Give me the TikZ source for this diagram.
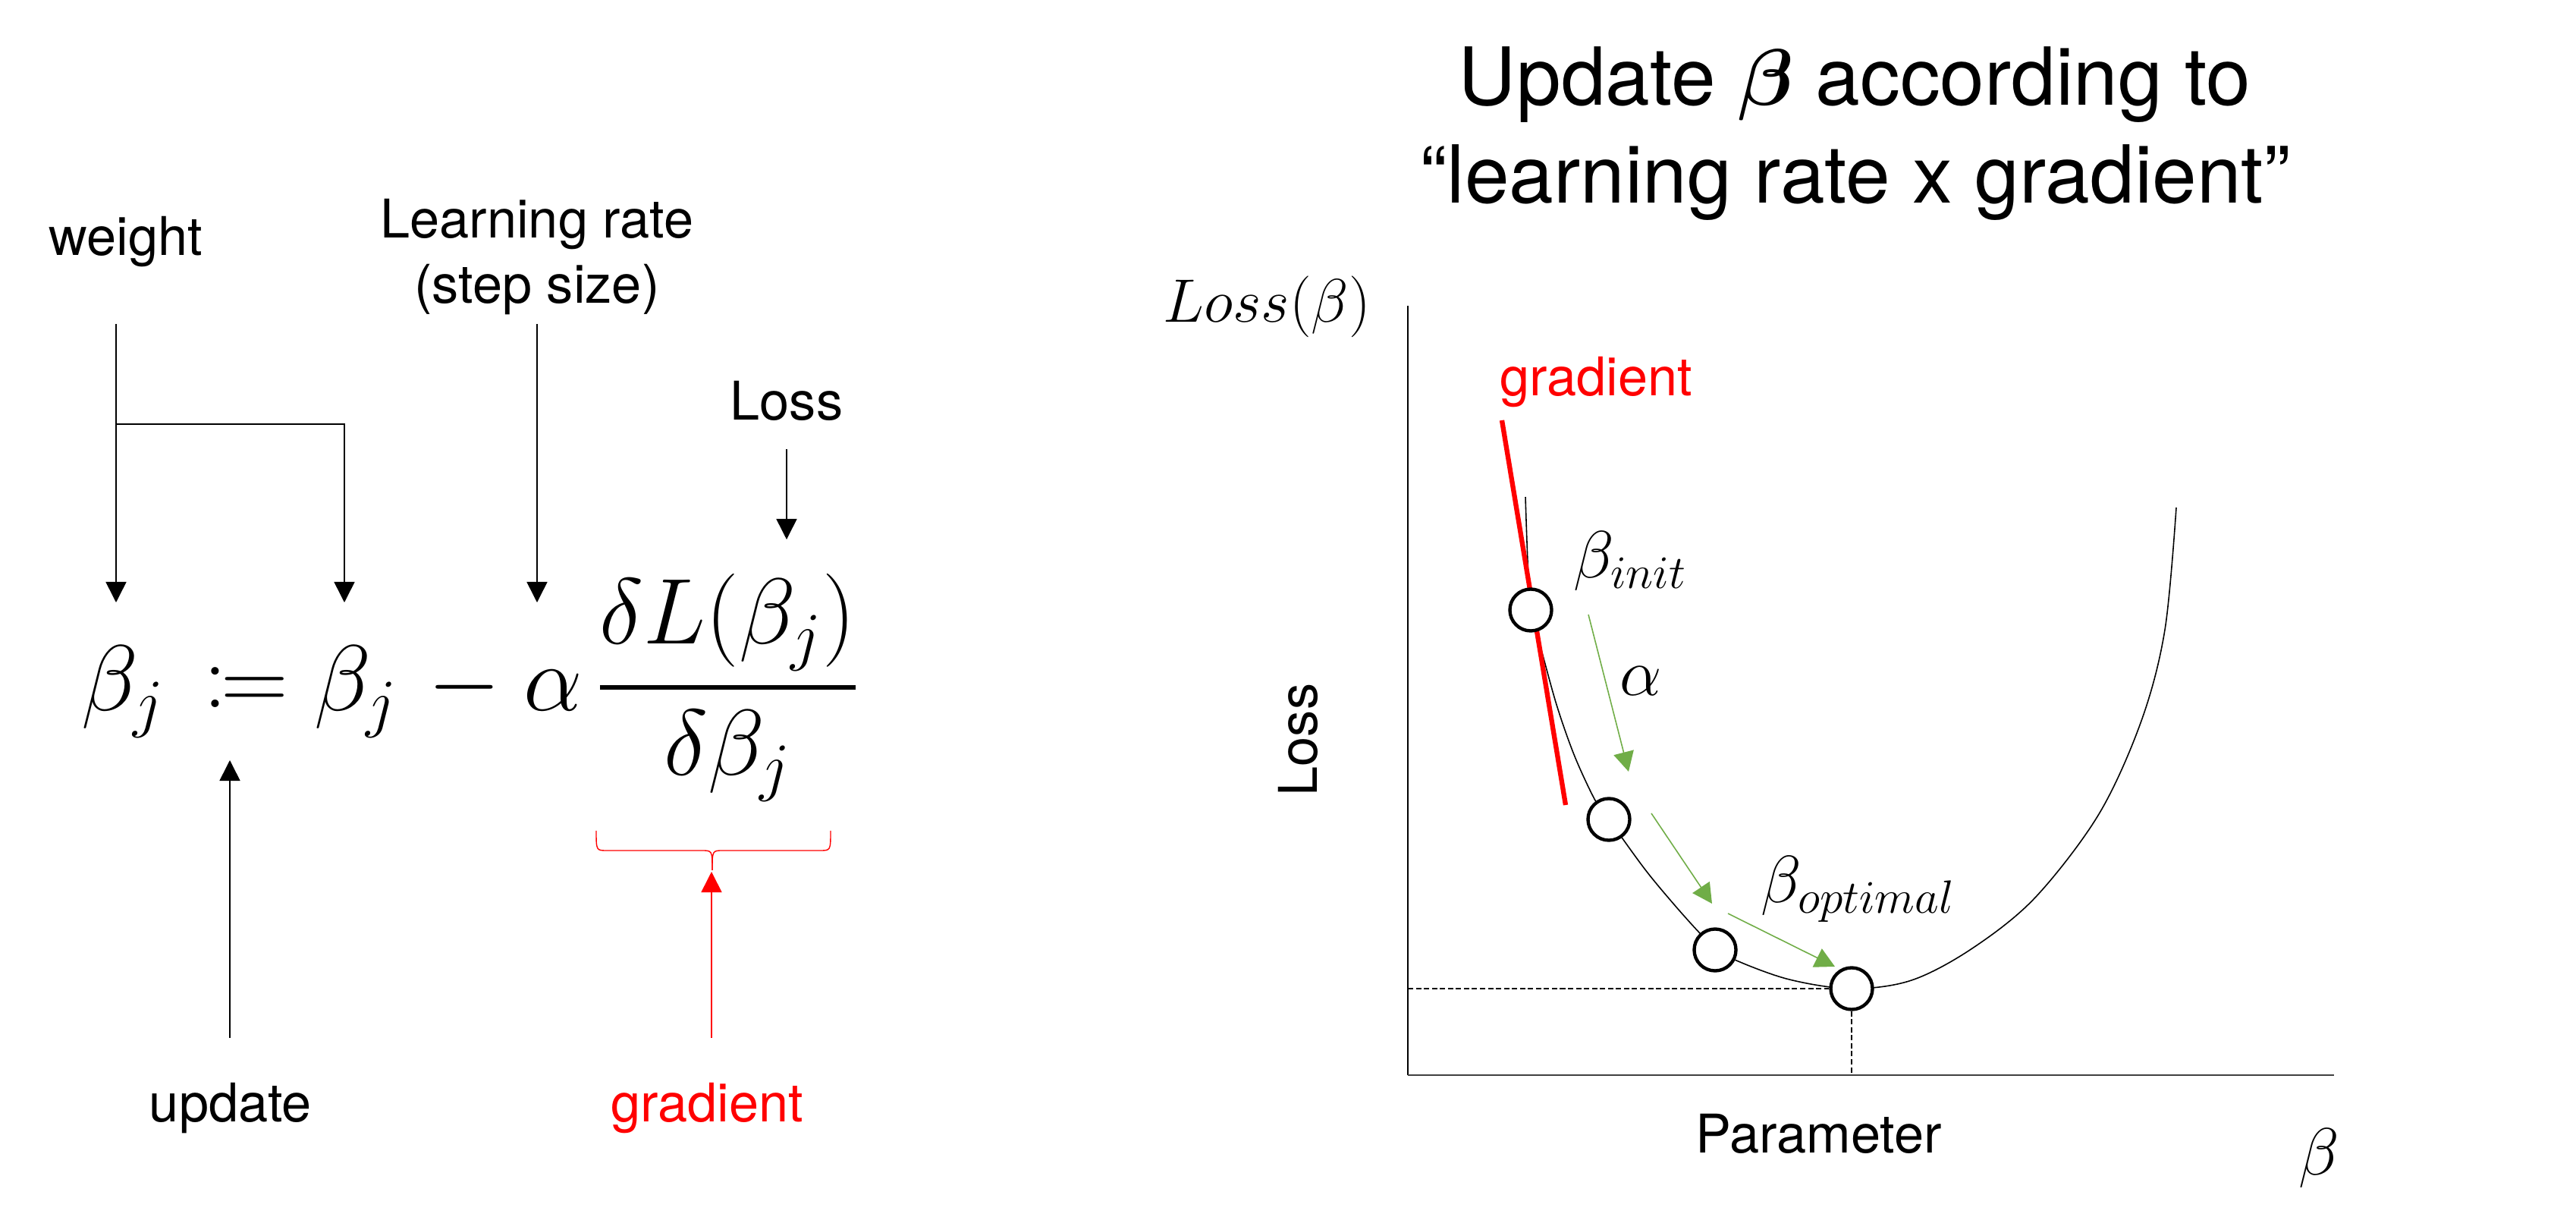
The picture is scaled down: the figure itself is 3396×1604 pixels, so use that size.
\RequirePackage{fix-cm}
\documentclass[tikz,border=0pt]{standalone}
\usepackage{amsmath,amssymb,mathtools}
\usepackage{fontspec}
\setmainfont{TeX Gyre Heros}
\usetikzlibrary{positioning,arrows.meta,calc}
\definecolor{gradred}{HTML}{FF0000}
\definecolor{stepgreen}{HTML}{70AD47}

\begin{document}
\begin{tikzpicture}[x=0.01cm,y=-0.01cm,
  lbl/.style={font=\fontsize{20}{24}\selectfont,inner sep=0pt},
  ttl/.style={font=\fontsize{30}{36}\selectfont,inner sep=0pt,anchor=base},
  eqn/.style={font=\fontsize{35}{42}\selectfont,inner sep=0pt,anchor=base west},
  crv/.style={font=\fontsize{25}{30}\selectfont,inner sep=0pt},
  arr/.style={line width=0.45pt,-{Triangle[width=0.27cm,length=0.27cm]}},
  garr/.style={stepgreen,line width=0.45pt,-{Triangle[width=0.27cm,length=0.26cm]}},
  guide/.style={line width=0.45pt,dash pattern=on 2pt off 1pt},
  dot/.style={circle,draw,fill=white,line width=1.25pt,minimum size=0.55cm,inner sep=0pt}]
\useasboundingbox (0,0) rectangle (3396,1604);

% update rule
\node[eqn] (b1) at (107,937) {$\beta_j$};
\node[eqn] (asgn) at (268,937) {$\coloneqq$};
\node[eqn] (b2) at (414,937) {$\beta_j$};
\node[eqn] (minus) at (564,937) {$-$};
\node[eqn] (alpha) at (690,937) {$\alpha$};
\node[eqn] (frac) at (786,937) {$\genfrac{}{}{1.8pt}{0}{\delta L(\beta_j)}{\delta\beta_j}$};

\node[lbl,anchor=base] (weight) at (166,337) {weight};
\node[lbl,anchor=base] (lr1) at (708,314) {Learning rate};
\node[lbl,anchor=base] (lr2) at (708,400) {(step size)};
\node[lbl,anchor=base] (loss) at (1037,554) {Loss};
\node[lbl,anchor=base] (upd) at (304,1478) {update};
\node[lbl,anchor=base,text=gradred] (grad) at (932,1478) {gradient};

\coordinate (wtop) at (153,427);
\coordinate (wsplit) at (153,559);
\coordinate (b1in) at (153,794);
\coordinate (b2in) at (454,794);
\draw[arr] (wtop) -- (b1in);
\draw[arr] (wsplit) -| (b2in);
\draw[arr] (lr2 |- wtop) -- (lr2 |- b1in);
\coordinate (losstop) at (1037,592);
\coordinate (lossin) at (1037,711);
\draw[arr] (losstop) -- (lossin);
\coordinate (updtop) at (303,1368);
\coordinate (asgnin) at (303,1002);
\draw[arr] (updtop) -- (asgnin);

% brace under the fraction
\coordinate (brtip) at (939,1147);
\draw[gradred,line width=0.4pt] (786,1095) .. controls (786,1121) and (786,1121) .. (800,1121) -- (925,1121)
  .. controls (939,1121) and (939,1121) .. (brtip);
\draw[gradred,line width=0.4pt] (1095,1095) .. controls (1095,1121) and (1095,1121) .. (1081,1121) -- (953,1121)
  .. controls (939,1121) and (939,1121) .. (brtip);
\coordinate (gradtop) at (938,1368);
\draw[arr,gradred] (gradtop) -- (938,1149);

% right: loss curve
\node[ttl] (title1) at (2445,139) {Update $\boldsymbol{\beta}$ according to};
\node[ttl] (title2) at (2446,268) {“learning rate x gradient”};

\coordinate (orig) at (1856,1417);
\draw[line width=0.45pt] (1856,403) -- (orig);
\draw[line width=0.7pt,black!75] (orig) -- (3077,1417);
\node[font=\fontsize{23}{27}\selectfont,inner sep=0pt,anchor=base west] (ytop) at (1533,425) {$Loss(\beta)$};
\node[lbl,rotate=90] (ylab) at (1711,975) {Loss};
\node[lbl,anchor=base west] (xlab) at (2235,1519) {Parameter};
\node[crv] (xsym) at (3057,1527) {$\beta$};

\draw[line width=0.45pt] plot[smooth,tension=0.55] coordinates {(2011,655) (2014,740) (2018,804)
  (2034,864) (2053,932) (2076,997) (2103,1055) (2121,1080) (2168,1145) (2206,1191) (2241,1230)
  (2261,1248) (2287,1265) (2359,1291) (2441,1303) (2520,1292) (2600,1250) (2683,1183)
  (2767,1073) (2823,950) (2854,830) (2869,669)};
\draw[gradred,line width=1.8pt] (1980,554) -- (2064,1061);
\node[lbl,anchor=base,text=gradred] (tanlbl) at (2104,522) {gradient};

\node[dot] (p1) at (2018,804) {};
\node[dot] (p2) at (2121,1080) {};
\node[dot] (p3) at (2261,1252) {};
\node[dot] (p4) at (2441,1303) {};

\draw[guide] (1856,1303) -- (p4);
\draw[guide] (p4) -- (p4 |- orig);

\coordinate (g1a) at (2094,810);
\coordinate (g1b) at (2147,1017);
\coordinate (g2a) at (2177,1072);
\coordinate (g2b) at (2257,1191);
\coordinate (g3a) at (2278,1204);
\coordinate (g3b) at (2419,1274);
\draw[garr] (g1a) -- (g1b);
\draw[garr] (g2a) -- (g2b);
\draw[garr] (g3a) -- (g3b);

\node[crv,anchor=base west] (binit) at (2074,762) {$\beta_{init}$};
\node[crv] (lr) at (2163,898) {$\alpha$};
\node[crv,anchor=base west] (bopt) at (2321,1190) {$\beta_{optimal}$};
\end{tikzpicture}
\end{document}
